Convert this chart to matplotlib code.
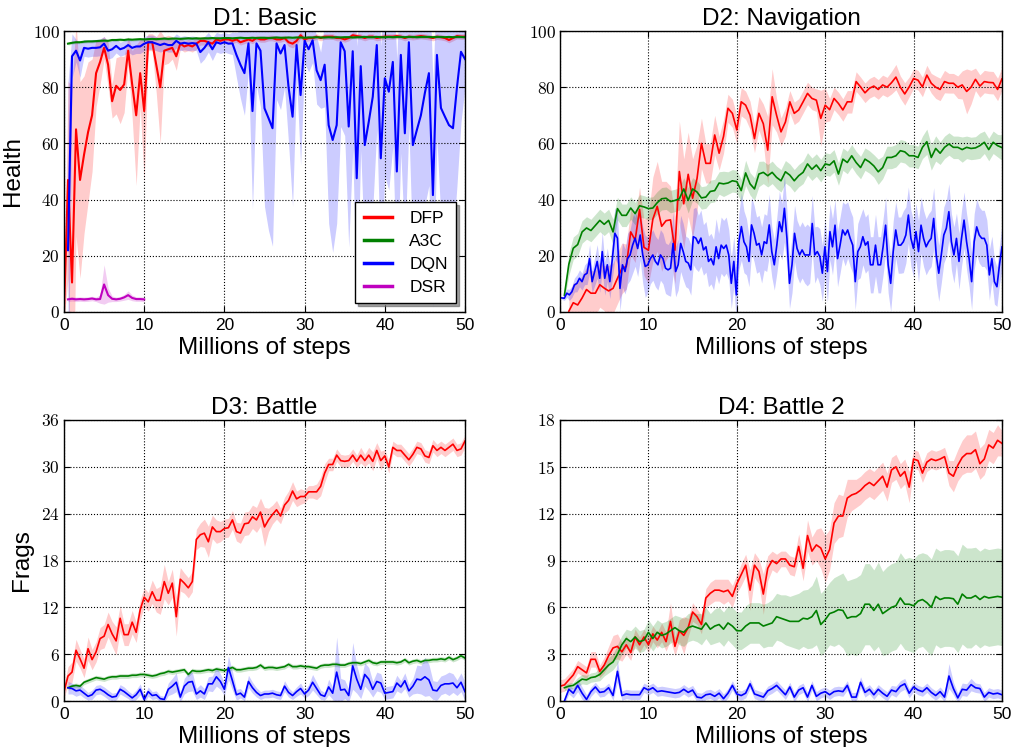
import numpy as np
import matplotlib
matplotlib.use('Agg')
import matplotlib.pyplot as plt

plt.rcParams['font.family'] = ['Liberation Sans', 'DejaVu Sans']
plt.rcParams['mathtext.fontset'] = 'cm'

# ---------------- D1: Basic (Health) ----------------
d1_dfp_steps = np.arange(0, 50.01, 0.5)
d1_dfp = [0, 47, 10.5, 65, 47, 56, 64, 70, 85, 89,
          94, 88, 75, 80.5, 79, 81, 93, 81, 70, 85,
          71.5, 96, 96, 88, 80, 93, 93.5, 94, 91, 95.5,
          94.5, 95, 94.5, 95.5, 96.5, 96.5, 96, 95.5, 97, 96.5,
          97, 97, 96.5, 97, 96, 96.5, 97, 96.5, 97.5, 97,
          97, 97.5, 97.5, 97, 97, 97.5, 96, 95.5, 96.5, 98.5,
          97, 97.5, 97.5, 98, 97.5, 98, 98, 98, 97.5, 97.5,
          97, 97.5, 98.5, 98.2, 98, 97.5, 98, 98, 97.5, 97.8,
          98, 98, 98, 98.2, 98, 97.5, 98, 97.8, 98, 98.2,
          98, 97.8, 97.5, 98, 97.8, 97.5, 96.8, 97.5, 98.2, 98,
          98]
d1_dfp_sd = [3, 35, 70, 38, 35, 28, 25, 20, 12, 8,
             4, 8, 6, 10, 12, 10, 5, 12, 25, 12,
             25, 3, 3, 10, 20, 5, 5, 4, 5, 2,
             2, 2, 2, 2, 1.5, 1.5, 1.5, 1.5, 1.2, 1.2,
             1, 1, 1, 1, 1, 1, 1, 1, 1, 1,
             1, 1, 1, 1, 1, 1, 1.5, 1.5, 1.5, 1.2,
             1, 1, 1, 1, 1, 1, 1, 1, 1, 1,
             1, 1, 1, 1, 1, 1, 1, 1, 1, 1,
             1, 1, 1, 1, 1, 1, 1, 1, 1, 1,
             1, 1, 1, 1, 1, 1, 1, 1, 1, 1,
             1]
d1_steps = np.arange(0.5, 50.01, 0.5)
d1_a3c = [95.5, 95.8, 96.0, 96.0, 96.2, 96.3, 96.3, 96.4, 96.5, 96.6,
          96.5, 96.8, 96.8, 96.9, 96.8, 97.0, 96.9, 97.0, 97.1, 97.0,
          97.1, 97.2, 97.1, 97.2, 97.3, 97.2, 97.3, 97.3, 97.2, 97.3,
          97.4, 97.3, 97.4, 97.3, 97.4, 97.4, 97.5, 97.4, 97.4, 97.5,
          97.5, 97.4, 97.5, 97.6, 97.5, 97.5, 97.6, 97.5, 97.6, 97.6,
          97.5, 97.6, 97.7, 97.6, 97.6, 97.7, 97.6, 97.7, 97.7, 97.6,
          97.7, 97.7, 97.8, 97.7, 97.7, 97.8, 97.7, 97.8, 97.7, 97.8,
          97.8, 97.7, 97.8, 97.8, 97.9, 97.8, 97.8, 97.9, 97.8, 97.8,
          97.9, 97.8, 97.9, 97.9, 97.8, 97.9, 97.9, 97.8, 97.9, 97.9,
          97.9, 97.8, 97.9, 97.9, 97.8, 97.9, 97.8, 97.9, 97.9, 97.8]
d1_a3c_sd = [0.5] * 100
d1_dqn = [22, 91, 93, 89.5, 94, 93.7, 94, 94, 94.2, 95.5,
          93, 93.5, 94.7, 93.5, 94, 95, 94, 94.5, 94.5, 95.5,
          96, 96, 95.5, 95, 95.5, 95, 95, 96.5, 95.5, 95.8,
          95.5, 95.7, 95.5, 92.5, 94, 96, 93.5, 96, 95.5, 96,
          95.5, 95.6, 91.5, 88, 85, 95.6, 71.5, 95.6, 93, 72.5,
          69, 65.4, 95.6, 92, 95, 80, 69.5, 95, 77.2, 96.5,
          93.5, 96.7, 86, 82.5, 88, 66.5, 61.2, 66.5, 96, 92.8,
          66, 92.8, 47.6, 87.5, 59.4, 67.7, 76.6, 95, 54.7, 83.2,
          78.4, 89, 50, 91.5, 63.6, 96, 59.4, 64.8, 70, 78,
          85, 41.6, 91.5, 72.6, 69.5, 66.5, 65.4, 80, 92.6, 90]
d1_dqn_sd = [60, 8, 4, 6, 3, 3, 3, 3, 3, 2.5,
             3, 3, 2.5, 2.5, 2.5, 2.5, 2.5, 2.5, 2.5, 2.5,
             2.5, 2.5, 2.5, 2.5, 2.5, 2.5, 2.5, 2.5, 2.5, 2.5,
             2.5, 2.5, 2.5, 4, 4, 3.5, 4, 3.5, 3.5, 3.5,
             3.5, 4, 8, 12, 15, 10, 35, 15, 20, 35,
             40, 42, 20, 20, 15, 20, 32, 12, 25, 8,
             8, 8, 12, 10, 15, 35, 40, 35, 30, 30,
             43, 35, 47, 30, 40, 40, 40, 30, 40, 35,
             35, 30, 40, 35, 40, 30, 40, 40, 40, 40,
             40, 40, 30, 40, 40, 40, 40, 35, 25, 10]
d1_dsr_steps = np.arange(0.5, 10.01, 0.5)
d1_dsr = [4.5, 4.7, 4.5, 4.6, 4.5, 4.6, 4.8, 4.5, 4.6, 9.8,
          6.0, 4.7, 4.5, 4.7, 5.2, 6.0, 5.0, 4.6, 4.6, 4.5]
d1_dsr_sd = [0.8, 0.8, 0.8, 0.8, 0.8, 0.8, 0.8, 0.8, 1.5, 7,
             2.5, 1, 0.8, 0.8, 1, 1.5, 1, 0.8, 0.8, 0.8]

# ---------------- D2: Navigation (Health) ----------------
d2_dfp_steps = np.arange(1.0, 50.01, 0.5)
d2_dfp = [0.3, 3.3, 2.5, 5, 8, 6.7, 6.7, 9.7, 8.5, 7.5,
          8.4, 12, 15.5, 16.2, 28.5, 25.6, 36.5, 23, 22, 33,
          37.6, 30.5, 32.5, 32.8, 22, 50, 38.5, 49, 40.5, 47.5,
          60, 52.9, 52.9, 63, 56.5, 62.5, 72.5, 70.7, 64.8, 74.8,
          73.6, 70, 61.7, 70.7, 67, 57.6, 76.6, 70, 64.1, 67.6,
          74.8, 70.7, 71.9, 74.8, 77.8, 76, 75.4, 68.9, 73.6, 72,
          76, 74.2, 71.9, 74.8, 74.8, 82, 80.1, 78, 79.6, 80.4,
          79.2, 80.8, 80, 81.6, 83.6, 80, 77.6, 80.1, 83.1, 82.5,
          80.1, 84.3, 81.4, 80, 79.2, 82, 81.4, 81.4, 80, 80.8,
          78.5, 80, 82.8, 80.4, 82, 81.7, 81.6, 79.2, 83]
d2_dfp_sd = [6, 7, 8, 8, 8, 8, 8, 8, 8, 9,
             9, 9, 9, 8, 8, 8, 8, 10, 12, 15,
             16, 16, 14, 12, 12, 18, 16, 15, 14, 12,
             9, 7, 7, 7, 6, 6, 5, 5, 5, 5,
             5, 5, 5, 6, 7, 12, 10, 6, 5, 5,
             4, 4, 4, 4, 4, 4, 4, 10, 6, 4,
             4, 4, 4, 4, 4, 3.5, 3.5, 3.5, 3.5, 3.5,
             3.5, 3.5, 3.5, 4, 4.5, 4, 4, 3.5, 3.5, 3.5,
             3.5, 3.5, 3.5, 4, 4, 4, 3.5, 3.5, 4, 5,
             8, 6, 4, 4, 4, 4, 4, 4, 4]
d2_steps = np.arange(0.5, 50.01, 0.5)
d2_a3c = [6, 17, 22.7, 24, 28.5, 29.9, 29, 30.8, 32.6, 31.2,
          32.6, 28.5, 36.8, 34.4, 34.4, 37, 35, 37.8, 37.4, 36.8,
          37, 38.9, 40.3, 40.5, 39.3, 39.7, 40.3, 43.8, 39.7, 43.8,
          42.7, 40.6, 40.9, 42.9, 43.2, 45.9, 45.6, 45.9, 46.7, 46.4,
          43.2, 49.5, 45.6, 43.8, 49.1, 49.7, 48.5, 49.7, 47.9, 46.7,
          49.9, 48.7, 46.7, 48.5, 49.7, 52.7, 50.8, 52.3, 50.3, 52.7,
          52.3, 53.8, 49.1, 54.4, 53.2, 55.6, 53.2, 51.4, 54.4, 53.4,
          52, 49.9, 51.4, 55, 55, 55.6, 57.4, 57, 55.6, 55.6,
          55, 58.6, 60.6, 55, 58.2, 56.5, 58.6, 59.8, 58.6, 58.6,
          57.8, 58.6, 58.2, 58.4, 59.2, 60.4, 57.8, 60.4, 59.2, 58.5]
d2_a3c_sd = [1.5, 4, 4, 4, 4, 4, 4, 4, 4, 4,
             4, 4.5, 4, 4, 4, 4, 4, 4, 4, 4,
             4, 4, 4, 4, 4, 4, 4, 4, 4.5, 4,
             4, 4, 4, 4, 4, 4, 4.5, 4, 4, 4,
             4, 4.5, 4, 4, 4.5, 4, 4, 4, 4, 4,
             4, 4, 4, 4, 4, 4, 4, 4, 4, 4,
             4, 4, 4, 4, 4, 4, 4, 4, 4, 4,
             4, 4.5, 4, 4, 4, 4, 4, 4, 4, 4,
             4, 4, 4.5, 4.5, 4.5, 4, 4, 4, 4, 4,
             4.5, 4, 4, 4, 4.5, 4, 4, 4, 4, 4.5]
d2_dqn = [5, 4.9, 6.7, 6.1, 7.2, 9.6, 10.2, 12, 10.8, 13.2,
          13.8, 19, 10.8, 14.4, 18, 12, 21.5, 12, 16.8, 10.8,
          19, 28, 26.3, 8.4, 16.8, 14.4, 19, 20.3, 23.8, 26.3,
          22.6, 27.4, 20.3, 16.2, 16.8, 19, 20.3, 18, 16.8, 20.3,
          19, 15.6, 15, 15.6, 24.4, 14.4, 16.8, 24.4, 21.5, 18,
          17.4, 15, 26.8, 26.3, 24.4, 26.3, 22.1, 23.2, 18, 19,
          16.8, 23.2, 19, 23.8, 22.6, 23.8, 20.3, 10.2, 18, 6.1,
          25, 30.4, 25, 23.2, 18, 31, 28, 23.8, 24.4, 20.3,
          25, 24.4, 31, 21.5, 16.8,
          23.8, 32.1, 28.6, 36.9, 26.2, 10.2, 16.8, 28, 22.6, 20.3,
          22.1, 20.3, 20.3, 20.3, 31.5, 20.3, 21.5, 19.7, 13.8, 23.2,
          14.4, 28.6, 23.2, 30.9, 19, 23.8, 29.2, 27.4, 29.2, 26.2,
          23.8, 10.8, 21.5, 23.2, 26.8, 23.8, 25, 16.8, 16.8, 23.8,
          16.8, 16.8, 23.2, 30.9, 16.8, 10.2, 21.5, 29.2, 23.8, 23.8,
          25, 27.4, 34.5, 26.2, 22.6, 28.6, 21.5, 30.9, 26.2, 23.2,
          25, 26.2, 33.3, 20.3, 13.8, 20.3, 27.4, 29.8, 35.7, 25,
          20.3, 26.2, 18, 26.2, 32.7, 25, 19, 10.8, 25, 30.3,
          27.4, 26.2, 26.2, 23.8, 13.2, 19, 10.8, 9, 16.8, 23.2]
d2_dqn_sd = [0.5, 0.8, 1.5, 2, 2, 2.5, 3, 3, 3, 3.5, 4, 5, 4, 5, 6, 5, 7, 6, 6, 6,
             7, 9, 9, 8, 8, 8, 9, 9, 10, 10, 10, 9, 10, 11, 10, 9, 9, 9, 9, 9,
             9, 9, 9, 10, 11, 9, 9, 10, 10, 9, 9, 9, 10, 11, 10, 10, 9, 9, 9, 9,
             9, 10, 9, 10, 10, 10, 9, 9, 9, 10, 10, 12, 11, 10, 9, 10, 10, 10, 10, 10,
             10, 10, 11, 9, 9, 10, 11, 10, 12, 10, 9, 10, 10, 10, 10, 10, 10, 11, 10, 10,
             10, 9, 10, 10, 10, 11, 10, 10, 9, 10, 10, 10, 11, 10, 10, 10, 10, 10, 11, 10,
             10, 10, 10, 10, 11, 10, 10, 10, 10, 10, 10, 11, 10, 10, 10, 11, 10, 10, 10, 10,
             10, 11, 10, 10, 10, 10, 10, 11, 10, 10, 10, 10, 10, 10, 10, 10, 9, 10, 10, 10,
             10, 10, 10, 10, 10, 10, 10, 10, 9, 9, 8, 8, 7, 7, 8]
d2_dqn_steps = np.linspace(0.2, 50, len(d2_dqn))

# ---------------- D3: Battle (Frags) ----------------
d3_dfp_steps = np.arange(0, 50.01, 0.5)
d3_dfp = [1.2, 3.2, 3.7, 6.5, 5.4, 4.2, 6.7, 5.3, 6.3, 8.0,
          8.3, 9.8, 8.6, 7.7, 10.6, 8.5, 8.5, 10.1, 8.8, 11.7,
          13.3, 12.7, 14.0, 12.9, 12.9, 15.3, 13.8, 15.1, 10.8, 15.6,
          15.1, 14.5, 15.3, 20.7, 21.3, 21.5, 20.4, 22.3, 21.7, 21.7,
          22.1, 22.2, 23.2, 21.7, 21.5, 22.7, 22.8, 23.6, 23.2, 24.2,
          22.3, 23.2, 23.9, 24.5, 23.7, 25.1, 25.7, 26.9, 25.9, 26.2,
          26.2, 26.8, 26.8, 26.8, 27.5, 29.2, 30.3, 30.3, 31.5, 30.8,
          30.7, 30.8, 31.5, 30.7, 31.5, 30.8, 31.5, 30.7, 32.1, 30.8,
          31.4, 30.0, 32.5, 32.1, 32.1, 31.5, 30.9, 31.6, 32.5, 32.3,
          31.4, 31.2, 32.7, 32.1, 32.5, 32.1, 32.5, 32.9, 32.1, 32.3,
          33.3]
d3_dfp_sd = [0.8, 1.2, 1.3, 1.4, 1.2, 1.2, 1.5, 1.3, 1.3, 1.4,
             1.5, 1.6, 1.6, 1.8, 1.6, 1.4, 1.4, 1.5, 1.3, 1.3,
             1.2, 1.2, 1.5, 1.5, 1.8, 2.2, 1.5, 1.8, 2.5, 1.5,
             1.3, 1.3, 1.3, 1.3, 1.5, 1.8, 2.0, 1.5, 1.5, 1.3,
             1.2, 1.2, 1.2, 1.2, 1.3, 1.5, 1.5, 1.5, 1.6, 1.8,
             2.5, 1.5, 1.2, 1.2, 1.0, 1.0, 1.2, 1.2, 1.0, 1.0,
             0.8, 0.8, 0.8, 1.0, 1.2, 1.2, 0.8, 0.8, 0.8, 0.8,
             0.8, 0.8, 0.8, 0.8, 1.0, 0.8, 1.0, 1.2, 1.0, 1.2,
             0.8, 0.8, 0.8, 0.8, 0.8, 0.8, 0.8, 0.8, 0.8, 0.8,
             0.8, 0.8, 0.8, 0.8, 0.8, 0.8, 0.8, 0.8, 0.8, 0.8,
             0.8]
d3_steps = np.arange(0.5, 50.01, 0.5)
d3_a3c = [1.7, 1.9, 2.0, 1.9, 2.4, 2.6, 2.8, 3.0, 2.9, 2.8,
          3.0, 3.1, 3.1, 3.2, 3.2, 3.2, 3.3, 3.3, 3.4, 3.4,
          3.3, 3.2, 3.3, 3.5, 3.6, 3.8, 3.7, 3.8, 3.9, 4.0,
          3.4, 3.9, 3.8, 3.8, 3.9, 4.0, 3.9, 4.1, 4.0, 3.9,
          4.1, 4.3, 4.0, 4.0, 4.1, 4.2, 4.2, 4.3, 4.6, 4.2,
          4.3, 4.3, 4.2, 4.3, 4.4, 4.7, 4.4, 4.4, 4.5, 4.4,
          4.4, 4.3, 4.2, 4.5, 4.6, 4.6, 4.7, 4.7, 4.6, 4.6,
          4.8, 4.9, 4.9, 4.8, 5.0, 5.2, 4.9, 4.8, 5.0, 5.0,
          5.0, 5.0, 4.9, 5.0, 5.3, 4.9, 5.1, 5.2, 5.0, 5.2,
          5.2, 5.3, 5.3, 5.4, 5.3, 5.6, 5.3, 5.5, 5.8, 5.5]
d3_a3c_sd = [0.3] * 100
d3_dqn = [1.7, 1.6, 1.3, 1.4, 1.0, 0.6, 0.8, 1.4, 1.5, 1.2,
          0.8, 0.5, 0.6, 1.5, 1.2, 0.8, 0.4, 0.8, 1.5, 0.2,
          1.2, 0.7, 0.8, 0.3, 0.2, 1.5, 1.9, 2.4, 0.5, 1.9,
          2.4, 2.5, 0.9, 1.3, 0.9, 2.2, 2.2, 3.1, 2.5, 1.5,
          4.3, 2.6, 0.8, 1.0, 0.5, 2.5, 1.7, 1.1, 0.7, 0.9,
          0.9, 1.0, 0.8, 0.7, 1.9, 1.1, 0.7, 1.2, 1.6, 0.9,
          1.4, 2.4, 1.6, 0.8, 0.6, 1.8, 1.0, 3.7, 1.4, 1.5,
          0.7, 4.5, 2.8, 1.5, 3.4, 2.8, 1.5, 2.5, 2.3, 1.0,
          1.1, 1.2, 2.3, 1.8, 2.6, 1.3, 1.9, 2.8, 2.7, 3.1,
          2.7, 1.4, 1.3, 2.0, 2.2, 2.2, 2.3, 1.7, 2.4, 1.2]
d3_dqn_sd = [0.8, 0.7, 0.7, 0.6, 0.6, 0.5, 0.6, 0.6, 0.6, 0.6,
             0.6, 0.5, 0.5, 0.6, 0.6, 0.5, 0.5, 0.6, 0.7, 0.5,
             0.6, 0.5, 0.5, 0.4, 0.4, 0.8, 1.0, 1.2, 0.6, 1.0,
             1.2, 1.2, 0.7, 0.8, 0.7, 0.9, 1.0, 1.2, 1.0, 0.8,
             1.5, 1.2, 0.7, 0.6, 0.5, 0.8, 0.7, 0.6, 0.5, 0.5,
             0.5, 0.5, 0.5, 0.5, 0.7, 0.6, 0.5, 0.6, 0.7, 0.5,
             0.7, 1.0, 0.8, 0.6, 0.5, 1.0, 0.8, 4.5, 1.5, 1.2,
             0.8, 3.0, 1.8, 1.2, 1.5, 1.5, 1.0, 1.2, 1.2, 0.8,
             0.8, 0.8, 1.0, 0.8, 1.0, 0.8, 1.0, 1.8, 1.8, 2.5,
             2.0, 1.2, 1.2, 1.2, 1.2, 1.5, 1.2, 1.0, 1.2, 1.2]

# ---------------- D4: Battle 2 (Frags) ----------------
d4_dfp_steps = np.arange(0, 50.01, 0.5)
d4_dfp = [0.95, 1.03, 1.35, 1.67, 2.2, 2.0, 1.8, 2.67, 2.67, 1.9,
          2.3, 2.9, 3.4, 3.5, 3.15, 3.6, 3.1, 4.1, 3.6, 4.1,
          3.6, 4.3, 3.9, 4.4, 3.8, 5.1, 3.5, 4.5, 4.2, 4.7,
          5.7, 5.4, 4.9, 6.6, 6.9, 7.1, 7.1, 7.0, 7.1, 6.7,
          7.5, 8.1, 8.7, 7.1, 8.7, 8.3, 6.85, 8.5, 9.0, 8.8,
          9.1, 9.1, 8.7, 8.6, 9.9, 8.5, 10.6, 9.6, 10.0, 9.8,
          9.1, 9.7, 11.4, 11.85, 11.85, 13.0, 13.2, 13.3, 13.5, 13.8,
          14.0, 13.8, 14.1, 14.4, 13.7, 14.8, 15.0, 14.4, 14.7, 13.7,
          15.5, 15.4, 14.6, 15.3, 15.5, 15.4, 15.5, 15.65, 14.6, 14.4,
          15.1, 15.6, 15.85, 15.85, 16.1, 15.2, 15.5, 16.4, 16.2, 16.7,
          16.5]
d4_dfp_sd = [0.4, 0.4, 0.4, 0.4, 0.4, 0.4, 0.4, 0.5, 0.5, 0.4,
             0.5, 0.6, 0.8, 0.8, 0.6, 0.6, 0.5, 0.5, 0.5, 0.5,
             0.5, 0.5, 0.5, 0.6, 0.6, 1.2, 0.6, 0.7, 1.2, 0.6,
             0.6, 0.5, 0.6, 0.6, 0.7, 0.7, 0.7, 0.8, 0.7, 0.7,
             0.6, 0.7, 0.7, 1.3, 0.8, 0.8, 1.3, 0.8, 0.6, 0.6,
             0.5, 0.5, 0.6, 0.6, 0.8, 0.8, 1.0, 0.9, 1.0, 1.3,
             1.5, 1.3, 1.3, 1.4, 1.3, 1.2, 1.0, 0.9, 0.9, 0.9,
             0.9, 0.9, 0.9, 0.9, 0.9, 0.8, 0.8, 0.8, 0.8, 1.0,
             0.6, 0.6, 0.6, 0.6, 0.6, 0.6, 0.6, 0.6, 0.8, 1.0,
             1.0, 1.1, 1.2, 1.2, 1.2, 1.0, 1.0, 1.0, 1.0, 1.0,
             0.8]
d4_steps = np.arange(0.5, 50.01, 0.5)
d4_a3c = [0.85, 0.95, 1.0, 1.2, 1.4, 1.35, 1.5, 1.55, 1.7, 2.0,
          2.3, 2.5, 3.0, 3.6, 4.0, 3.8, 4.1, 3.8, 3.9, 4.4,
          4.0, 4.4, 4.2, 4.3, 4.5, 4.7, 4.5, 4.4, 4.7, 4.8,
          4.7, 4.6, 5.0, 4.6, 4.8, 4.9, 4.6, 5.0, 4.8, 4.5,
          4.5, 4.8, 5.0, 5.0, 5.0, 4.8, 4.9, 5.0, 5.4, 5.3,
          5.2, 5.1, 5.1, 5.1, 5.3, 5.25, 5.4, 5.8, 4.9, 5.2,
          5.6, 5.7, 5.85, 5.8, 5.3, 5.4, 5.4, 5.6, 6.2, 6.2,
          5.8, 6.2, 5.6, 5.8, 6.0, 6.1, 6.6, 6.2, 6.2, 6.1,
          6.4, 6.5, 6.3, 6.0, 6.7, 6.5, 6.6, 6.6, 6.55, 6.2,
          6.85, 6.6, 6.6, 6.75, 6.5, 6.7, 6.6, 6.65, 6.7, 6.65]
d4_a3c_sd = [0.2, 0.2, 0.2, 0.3, 0.3, 0.3, 0.3, 0.3, 0.4, 0.4,
             0.5, 0.5, 0.6, 0.6, 0.6, 0.7, 0.7, 0.7, 0.7, 0.8,
             0.8, 0.8, 0.8, 0.8, 0.8, 0.8, 0.9, 0.9, 0.9, 0.9,
             0.9, 1.0, 1.0, 1.0, 1.1, 1.1, 1.1, 1.1, 1.2, 1.2,
             1.2, 1.3, 1.3, 1.3, 1.3, 1.4, 1.4, 1.5, 1.5, 1.5,
             1.6, 1.6, 1.7, 1.8, 1.8, 1.9, 2.0, 2.2, 2.0, 2.0,
             2.0, 2.2, 2.2, 2.4, 2.4, 2.4, 2.5, 2.5, 2.6, 2.6,
             2.6, 2.7, 2.7, 2.8, 2.8, 2.8, 2.9, 2.9, 3.0, 3.0,
             3.0, 3.0, 3.1, 3.1, 3.1, 3.1, 3.1, 3.1, 3.1, 3.1,
             3.2, 3.2, 3.2, 3.1, 3.1, 3.1, 3.1, 3.1, 3.1, 3.1]
d4_dqn = [0.0, 0.75, 0.5, 1.0, 0.5, 0.1, 0.6, 0.9, 0.55, 0.6,
          0.85, 0.35, 1.9, 0.35, 0.45, 0.4, 0.4, 0.4, 0.85, 0.7,
          0.85, 0.6, 0.65, 0.6, 0.55, 0.5, 0.55, 0.75, 0.55, 0.7,
          0.25, 0.2, 0.4, 0.45, 0.3, 0.5, 0.15, 0.5, 1.0, 0.45,
          0.35, 0.5, 1.1, 0.45, 0.35, 0.25, 0.65, 0.8, 1.0, 0.7,
          0.4, 0.9, 0.25, 0.7, 0.85, 0.25, 1.0, 0.3, 0.5, 0.6,
          0.4, 0.6, 0.65, 0.6, 1.0, 0.25, 0.25, 1.2, 0.55, 0.75,
          0.4, 0.75, 0.5, 0.3, 0.7, 0.6, 0.95, 1.1, 0.5, 0.9,
          0.7, 0.6, 0.85, 0.55, 0.35, 0.6, 0.25, 1.6, 0.8, 0.2,
          0.75, 0.7, 1.05, 0.85, 0.8, 0.25, 0.55, 0.45, 0.5, 0.4]
d4_dqn_sd = [0.2, 0.3, 0.3, 0.4, 0.4, 0.3, 0.3, 0.3, 0.3, 0.3,
             0.3, 0.3, 0.7, 0.3, 0.3, 0.3, 0.3, 0.3, 0.3, 0.3,
             0.3, 0.3, 0.3, 0.3, 0.3, 0.3, 0.3, 0.3, 0.3, 0.3,
             0.3, 0.3, 0.3, 0.3, 0.3, 0.3, 0.3, 0.3, 0.3, 0.3,
             0.3, 0.3, 0.3, 0.3, 0.3, 0.3, 0.3, 0.3, 0.3, 0.3,
             0.3, 0.3, 0.3, 0.3, 0.3, 0.3, 0.3, 0.3, 0.3, 0.3,
             0.3, 0.3, 0.3, 0.3, 0.3, 0.3, 0.3, 0.35, 0.3, 0.3,
             0.3, 0.3, 0.3, 0.3, 0.3, 0.35, 0.35, 0.35, 0.3, 0.3,
             0.3, 0.3, 0.3, 0.3, 0.3, 0.3, 0.3, 0.8, 0.4, 0.3,
             0.4, 0.4, 0.4, 0.3, 0.3, 0.3, 0.3, 0.3, 0.3, 0.3]

titles = ['D1: Basic', 'D2: Navigation', 'D3: Battle', 'D4: Battle 2']
method_labels = ['DFP', 'A3C', 'DQN', 'DSR']
colors = {'DFP': '#ff0000', 'A3C': '#008000', 'DQN': '#0000ff', 'DSR': '#bf00bf'}

W, H = 1012, 747
fig = plt.figure(figsize=(W / 100, H / 100), dpi=100)


def add_ax(l, t, r, b):
    return fig.add_axes([l / W, 1 - b / H, (r - l) / W, (b - t) / H])


def series(ax, x, m, s, name, lw, label=None):
    m = np.asarray(m, float)
    s = np.asarray(s, float)
    ax.fill_between(x, m - s, m + s, color=colors[name], alpha=0.2, linewidth=0)
    ax.plot(x, m, color=colors[name], lw=lw, label=label)


def style(ax, ymax, ystep, title, ylabel=None):
    ax.set_xlim(0, 50)
    ax.set_ylim(0, ymax)
    ax.set_xticks(range(0, 51, 10))
    yt = np.arange(0, ymax + 0.01, ystep)
    ax.set_yticks(yt)
    ax.set_yticklabels([f'${int(v)}$' for v in yt], fontsize=12.5)
    ax.tick_params(axis='x', labelsize=12.5, pad=4)
    ax.tick_params(axis='y', pad=3)
    ax.tick_params(direction='in', top=True, right=True, length=4, width=0.8)
    ax.grid(True, linestyle=':', color='k', linewidth=0.8)
    ax.set_title(title, fontsize=17.5, pad=4)
    ax.set_xlabel('Millions of steps', fontsize=17.5, labelpad=3)
    if ylabel:
        ax.set_ylabel(ylabel, fontsize=17.5, labelpad=6)
    for sp in ax.spines.values():
        sp.set_linewidth(1.0)


ax1 = add_ax(64, 31, 465, 312)
ax2 = add_ax(560, 31, 1002, 312)
ax3 = add_ax(64, 420, 465, 701)
ax4 = add_ax(560, 420, 1002, 701)

lw1 = 1.5
series(ax1, d1_dfp_steps, d1_dfp, d1_dfp_sd, 'DFP', lw1, 'DFP')
series(ax1, d1_steps, d1_a3c, d1_a3c_sd, 'A3C', lw1, 'A3C')
series(ax1, d1_steps, d1_dqn, d1_dqn_sd, 'DQN', lw1, 'DQN')
series(ax1, d1_dsr_steps, d1_dsr, d1_dsr_sd, 'DSR', lw1, 'DSR')
style(ax1, 100, 20, titles[0], 'Health')
leg = ax1.legend(loc='lower right', fontsize=12.5, handlelength=1.6,
                 handletextpad=1.0, borderpad=0.5, borderaxespad=0.5,
                 labelspacing=0.45, fancybox=False, shadow=True,
                 edgecolor='k', framealpha=1)
leg.get_frame().set_linewidth(1.0)
for ln in leg.get_lines():
    ln.set_linewidth(2.5)

lw2 = 1.2
series(ax2, d2_dfp_steps, d2_dfp, d2_dfp_sd, 'DFP', lw2)
series(ax2, d2_steps, d2_a3c, d2_a3c_sd, 'A3C', lw2)
series(ax2, d2_dqn_steps, d2_dqn, d2_dqn_sd, 'DQN', lw2)
style(ax2, 100, 20, titles[1])

series(ax3, d3_dfp_steps, d3_dfp, d3_dfp_sd, 'DFP', lw2)
series(ax3, d3_steps, d3_a3c, d3_a3c_sd, 'A3C', lw2)
series(ax3, d3_steps, d3_dqn, d3_dqn_sd, 'DQN', lw2)
style(ax3, 36, 6, titles[2], 'Frags')

series(ax4, d4_dfp_steps, d4_dfp, d4_dfp_sd, 'DFP', lw2)
series(ax4, d4_steps, d4_a3c, d4_a3c_sd, 'A3C', lw2)
series(ax4, d4_steps, d4_dqn, d4_dqn_sd, 'DQN', lw2)
style(ax4, 18, 3, titles[3])

fig.savefig('out.png', dpi=100)
